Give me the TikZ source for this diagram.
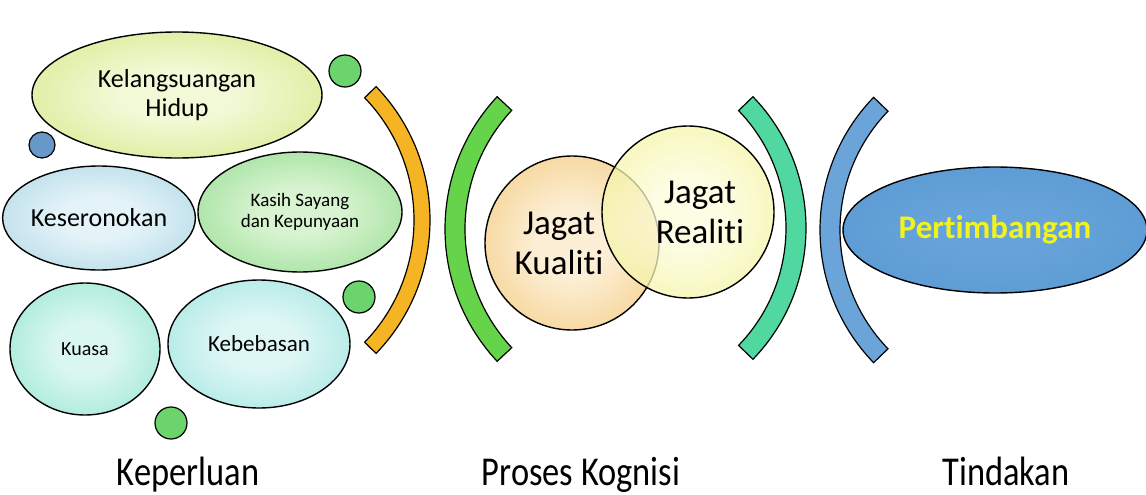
\documentclass[tikz,border=0pt]{standalone}
\usepackage{fontspec}
\setmainfont{Carlito}[Ligatures=NoCommon]
\newfontfamily\narrowfont{Carlito}[FakeStretch=0.84, Ligatures=NoCommon]
\usetikzlibrary{shapes.geometric}

% bubble colours (inside, edge)
\definecolor{hidupin}{HTML}{F2F9D6}\definecolor{hidupout}{HTML}{BEDC4E}
\definecolor{seronokin}{HTML}{E4F3F8}\definecolor{seronokout}{HTML}{86C2D8}
\definecolor{kasihin}{HTML}{D8F3D0}\definecolor{kasihout}{HTML}{62CC62}
\definecolor{kuasain}{HTML}{DAF7EF}\definecolor{kuasaout}{HTML}{64D8BC}
\definecolor{bebasin}{HTML}{DEF7F5}\definecolor{bebasout}{HTML}{74D6CF}
\definecolor{kualitiin}{HTML}{FCEFD6}\definecolor{kualitiout}{HTML}{EEB040}
\definecolor{realitiin}{HTML}{FCFCDA}\definecolor{realitiout}{HTML}{E8E850}
\definecolor{timbangin}{HTML}{66A3DA}\definecolor{timbangout}{HTML}{4F8FCB}
\definecolor{ballgreen}{HTML}{6CD46C}\definecolor{ballblue}{HTML}{6898C8}
\definecolor{arcorange}{HTML}{F4B424}\definecolor{arcgreen}{HTML}{66D44A}
\definecolor{arcteal}{HTML}{50D8A0}\definecolor{arcblue}{HTML}{6AA4D8}
\definecolor{timbangtext}{HTML}{F2F21E}

\colorlet{bubin}{white}\colorlet{bubout}{black}
\pgfdeclareradialshading[bubin,bubout]{bubble}{\pgfpoint{0bp}{0bp}}{color(0bp)=(bubin); color(10bp)=(bubin); color(30bp)=(bubin!55!bubout); color(50bp)=(bubout)}

\newcommand{\bandarc}[7]{% centre x, centre y, radius, from, to, half width, colour
  \filldraw[arcband, fill=#7] (#1,#2) ++(#4:#3+#6) arc[start angle=#4, end angle=#5, radius=#3+#6]
    -- ++(#5:-2*#6) arc[start angle=#5, end angle=#4, radius=#3-#6] -- cycle;}

\begin{document}
\begin{tikzpicture}[x=1pt, y=-1pt,
    bubble/.style n args={2}{ellipse, draw=black, line width=1.4pt, inner sep=0pt, align=center,
      /utils/exec={\colorlet{bubin}{#1}\colorlet{bubout}{#2}}, shading=bubble},
    ball/.style={circle, draw=black, line width=1.2pt, fill=#1, inner sep=0pt},
    arcband/.style={draw=black, line width=1.2pt, line join=miter},
    caption/.style={font=\narrowfont\fontsize{41}{44}\selectfont, anchor=base}]
  \useasboundingbox (0,0) rectangle (1146,495);

  % Keperluan
  \node[bubble={hidupin}{hidupout}, minimum width=290, minimum height=126,
    font=\fontsize{26}{29}\selectfont] (hidup) at (177,95) {Kelangsuangan\\Hidup};
  \node[bubble={seronokin}{seronokout}, minimum width=178, minimum height=104,
    font=\fontsize{26}{29}\selectfont] (seronok) at (99,218) {Keseronokan};
  \node[bubble={kasihin}{kasihout}, minimum width=204, minimum height=120,
    font=\fontsize{19}{21}\selectfont] (kasih) at (300,212) {Kasih Sayang\\dan Kepunyaan};
  \node[bubble={kuasain}{kuasaout}, minimum width=150, minimum height=132,
    font=\fontsize{20}{22}\selectfont] (kuasa) at (85,349) {Kuasa};
  \node[bubble={bebasin}{bebasout}, minimum width=182, minimum height=128,
    font=\fontsize{23}{25}\selectfont] (bebas) at (259,344) {Kebebasan};

  \node[ball=ballgreen, minimum size=32] (ball1) at (345,71) {};
  \node[ball=ballblue, minimum size=26] (ball2) at (42,145) {};
  \node[ball=ballgreen, minimum size=32] (ball3) at (359,297) {};
  \node[ball=ballgreen, minimum size=32] (ball4) at (171,423) {};

  % Kurungan
  \bandarc{238}{220}{184}{-44}{44}{8}{arcorange}
  \bandarc{639}{229}{184}{137}{223}{10}{arcgreen}
  \bandarc{617}{228}{179}{-44}{44}{10}{arcteal}
  \bandarc{1011}{230}{181}{136}{224}{10}{arcblue}

  % Proses Kognisi
  \node[bubble={kualitiin}{kualitiout}, circle, minimum size=174,
    label={[xshift=-13, align=center, font=\fontsize{35}{40}\selectfont]center:Jagat\\Kualiti}] (kualiti) at (572,243) {};
  \node[bubble={realitiin}{realitiout}, circle, minimum size=172, fill opacity=0.75,
    label={[xshift=12, align=center, font=\fontsize{35}{40}\selectfont]center:Jagat\\Realiti}] (realiti) at (688,212) {};

  % Tindakan
  \node[bubble={timbangin}{timbangout}, minimum width=304, minimum height=126,
    font=\bfseries\fontsize{33}{36}\selectfont, text=timbangtext] (timbang) at (995,230) {Pertimbangan};

  % Tajuk
  \node[caption] (perlu) at (188,485) {Keperluan};
  \node[caption] (kognisi) at (581,485) {Proses Kognisi};
  \node[caption] (tindak) at (1006,485) {Tindakan};
\end{tikzpicture}
\end{document}
